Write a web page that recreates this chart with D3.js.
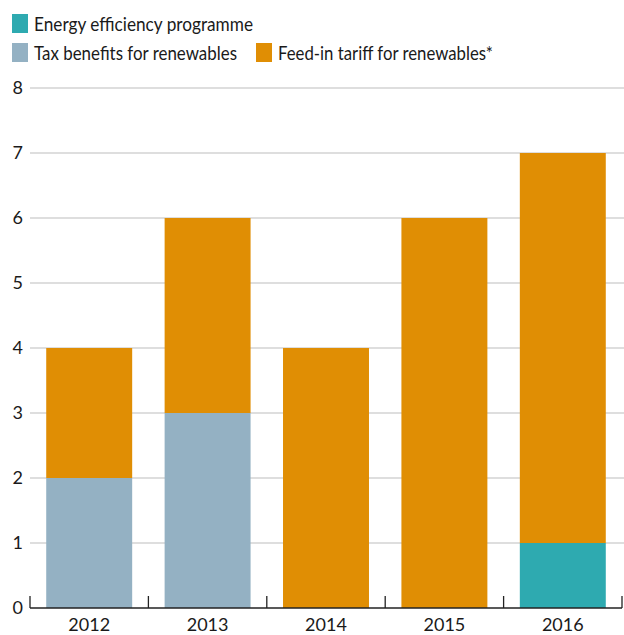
<!DOCTYPE html>
<html>
<head>
<meta charset="utf-8">
<script src="https://cdn.jsdelivr.net/npm/d3@7"></script>
<style>
  body { margin: 0; background: #fff; }
  text { font-family: Lato, "Open Sans", sans-serif; fill: #1a1a1a; }
</style>
</head>
<body>
<div id="chart"></div>
<script>
"use strict";
// values
var years = ["2012", "2013", "2014", "2015", "2016"];
var energyEfficiency = [0, 0, 0, 0, 1];
var taxBenefits = [2, 3, 0, 0, 0];
var feedInTariff = [2, 3, 4, 6, 6];
var yTicks = [0, 1, 2, 3, 4, 5, 6, 7, 8];

var seriesNames = ["Energy efficiency programme", "Tax benefits for renewables", "Feed-in tariff for renewables*"];
var seriesColors = ["#2eaab0", "#94b1c3", "#e08e04"];

var w = 624, h = 635;

var svg = d3.select("#chart").append("svg")
  .attr("width", w)
  .attr("height", h);

var x = d3.scaleBand()
  .domain(years)
  .range([30, 622])
  .paddingInner(0.274)
  .paddingOuter(0.137);

var y = d3.scaleLinear()
  .domain([0, 8])
  .range([608, 88]);

// gridlines
svg.append("g").selectAll("line")
  .data(yTicks.filter(function(d) { return d > 0; }))
  .enter().append("line")
  .attr("x1", 30)
  .attr("x2", w)
  .attr("y1", function(d) { return y(d); })
  .attr("y2", function(d) { return y(d); })
  .attr("stroke", "#bdbdbd")
  .attr("stroke-width", 1.2);

// y labels
svg.append("g").selectAll("text")
  .data(yTicks)
  .enter().append("text")
  .attr("x", 23)
  .attr("y", function(d) { return y(d); })
  .attr("dy", "0.36em")
  .attr("text-anchor", "end")
  .style("font-size", "18px")
  .text(function(d) { return d; });

// stack data
var table = years.map(function(yr, i) {
  return { year: yr, e: energyEfficiency[i], t: taxBenefits[i], f: feedInTariff[i] };
});
var stack = d3.stack().keys(["e", "t", "f"])(table);

svg.append("g").selectAll("g")
  .data(stack)
  .enter().append("g")
  .attr("fill", function(d, i) { return seriesColors[i]; })
  .selectAll("rect")
  .data(function(d) { return d; })
  .enter().append("rect")
  .attr("x", function(d) { return x(d.data.year); })
  .attr("width", x.bandwidth())
  .attr("y", function(d) { return y(d[1]); })
  .attr("height", function(d) { return y(d[0]) - y(d[1]); });

// x axis line with upward ticks at band edges
svg.append("line")
  .attr("x1", 30).attr("x2", 622)
  .attr("y1", y(0)).attr("y2", y(0))
  .attr("stroke", "#222")
  .attr("stroke-width", 1.3);

var edges = years.map(function(d) { return x(d) - x.step() * x.paddingOuter(); });
edges.push(622);
svg.append("g").selectAll("line")
  .data(edges)
  .enter().append("line")
  .attr("x1", function(d) { return d; })
  .attr("x2", function(d) { return d; })
  .attr("y1", y(0))
  .attr("y2", y(0) - 12)
  .attr("stroke", "#222")
  .attr("stroke-width", 1.3);

svg.append("g").selectAll("text")
  .data(years)
  .enter().append("text")
  .attr("x", function(d) { return x(d) + x.bandwidth() / 2; })
  .attr("y", 631)
  .attr("text-anchor", "middle")
  .style("font-size", "18px")
  .text(function(d) { return d; });

// legend
var legendPos = [[12, 14], [12, 43], [256, 43]];
var legendWidths = [219, 203, 215];
var lg = svg.append("g").selectAll("g")
  .data(seriesNames)
  .enter().append("g")
  .attr("transform", function(d, i) { return "translate(" + legendPos[i][0] + "," + legendPos[i][1] + ")"; });

lg.append("rect")
  .attr("width", 16)
  .attr("height", 19)
  .attr("fill", function(d, i) { return seriesColors[i]; });

lg.append("text")
  .attr("x", 22)
  .attr("y", 17)
  .attr("textLength", function(d, i) { return legendWidths[i]; })
  .attr("lengthAdjust", "spacingAndGlyphs")
  .style("font-size", "19px")
  .text(function(d) { return d; });
</script>
</body>
</html>
